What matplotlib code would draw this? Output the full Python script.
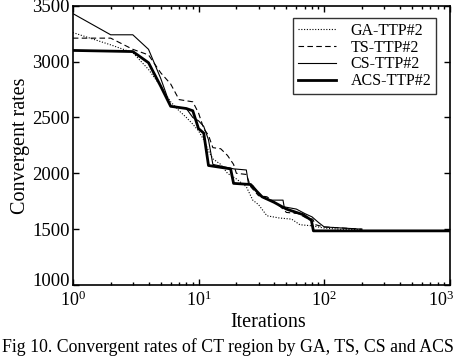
import matplotlib
matplotlib.use("Agg")
import matplotlib.pyplot as plt
import matplotlib.transforms as mtransforms
from matplotlib.ticker import LogLocator, FixedLocator

plt.rcParams['font.family'] = ['Liberation Serif', 'DejaVu Serif']
plt.rcParams['mathtext.fontset'] = 'stix'

ga_iter = [1, 2, 3, 4, 5, 6, 7, 8, 9, 10, 11, 12, 13, 15, 17, 20, 24, 27, 30, 35, 44, 55, 64, 80, 100, 130, 200]
ga_val = [3260, 3150, 3080, 2930, 2780, 2640, 2560, 2500, 2440, 2380, 2300, 2200, 2130, 2080, 2000, 1950, 1880,
          1760, 1720, 1620, 1600, 1590, 1540, 1530, 1510, 1500, 1495]

ts_iter = [1, 2, 3, 4, 5, 6, 7, 9, 10, 11, 12, 13, 15, 17, 19, 20, 24, 26, 30, 35, 45, 50, 62, 72, 81, 85, 100, 200]
ts_val = [3210, 3210, 3110, 3060, 2900, 2800, 2660, 2640, 2540, 2400, 2340, 2230, 2220, 2160, 2080, 2000, 1990,
          1880, 1800, 1790, 1700, 1650, 1640, 1600, 1590, 1540, 1520, 1500]

cs_iter = [1, 2, 3, 4, 5, 6, 8, 9, 10, 11, 12, 13, 19, 24, 25, 27, 29, 33, 37, 47, 48, 60, 70, 80, 90, 100, 200]
cs_val = [3430, 3240, 3240, 3110, 2850, 2600, 2580, 2500, 2470, 2420, 2300, 2080, 2040, 2030, 1900, 1890, 1840,
          1780, 1760, 1760, 1700, 1680, 1640, 1610, 1560, 1520, 1500]

acs_iter = [1, 3, 4, 5, 6, 8, 9, 10, 11, 12, 18, 19, 26, 29, 32, 40, 50, 68, 79, 82, 1000]
acs_val = [3100, 3090, 2990, 2780, 2600, 2580, 2560, 2400, 2360, 2070, 2040, 1910, 1900, 1840, 1790, 1740, 1680,
           1630, 1580, 1485, 1485]

labels = ['GA-TTP#2', 'TS-TTP#2', 'CS-TTP#2', 'ACS-TTP#2']
yticks = [1000, 1500, 2000, 2500, 3000, 3500]
xticks = [1, 10, 100, 1000]

fig = plt.figure(figsize=(4.61, 3.59), dpi=100)
ax = fig.add_axes([0.158, 0.206, 0.818, 0.778])

ax.plot(ga_iter, ga_val, color='black', linestyle=(0, (1, 1.5)), linewidth=0.8, label=labels[0])
ax.plot(ts_iter, ts_val, color='black', linestyle=(0, (5, 3)), linewidth=0.8, label=labels[1])
ax.plot(cs_iter, cs_val, color='black', linestyle='-', linewidth=0.8, label=labels[2])
ax.plot(acs_iter, acs_val, color='black', linestyle='-', linewidth=2.0, label=labels[3])

ax.set_xscale('log')
ax.set_xlim(1, 1000)
ax.set_ylim(1000, 3500)
ax.yaxis.set_major_locator(FixedLocator(yticks))
ax.xaxis.set_major_locator(FixedLocator(xticks))
ax.xaxis.set_minor_locator(LogLocator(base=10, subs=range(2, 10), numticks=20))
ax.tick_params(which='both', direction='in', top=True, right=True, labelsize=13.5, width=1)
ax.tick_params(which='major', length=4)
ax.tick_params(axis='y', which='major', pad=2)
ax.tick_params(axis='x', which='major', pad=4, labelsize=13)
ax.tick_params(which='minor', length=2)
for s in ax.spines.values():
    s.set_linewidth(1.2)

fig.canvas.draw()
# lift the bottom y label slightly, as in the reference
up = mtransforms.ScaledTranslation(0, 6 / 100, fig.dpi_scale_trans)
ylabels = ax.yaxis.get_majorticklabels()
ylabels[0].set_transform(ylabels[0].get_transform() + up)
# keep the last x label inside the figure
xlabels = ax.xaxis.get_majorticklabels()
left = mtransforms.ScaledTranslation(-9 / 100, 0, fig.dpi_scale_trans)
xlabels[-1].set_transform(xlabels[-1].get_transform() + left)

ax.set_xlabel('Iterations', fontsize=14.5)
ax.xaxis.set_label_coords(0.517, -0.1)
ax.set_ylabel('Convergent rates', fontsize=14.5, labelpad=2)

leg = ax.legend(loc='upper right', fontsize=11.5, frameon=True, fancybox=False, edgecolor='black',
                handlelength=2.4, borderpad=0.3, labelspacing=0.05, handletextpad=0.9,
                bbox_to_anchor=(0.985, 0.985))
leg.get_frame().set_linewidth(1.0)

fig.text(0.495, 0.033, 'Fig 10. Convergent rates of CT region by GA, TS, CS and ACS', ha='center',
         va='center', fontsize=12.8)

fig.savefig('out.png', dpi=100)
